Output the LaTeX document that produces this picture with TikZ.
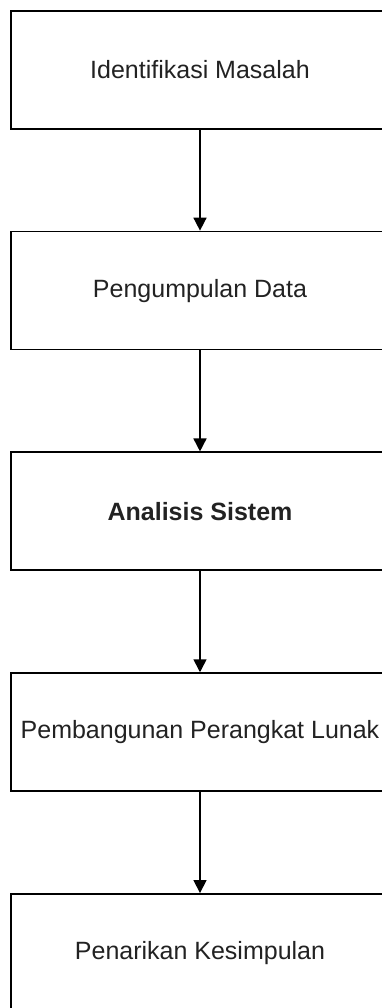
\documentclass[tikz,border=0pt]{standalone}
\usepackage{fontspec}
\setmainfont{Liberation Sans}
\usetikzlibrary{positioning, arrows.meta}
\definecolor{boxtext}{RGB}{34, 34, 34}

\begin{document}
\begin{tikzpicture}[
  procbox/.style={draw, line width=1.8pt, minimum width=378pt, minimum height=118pt, inner sep=0pt, font=\fontsize{25}{30}\selectfont, text=boxtext},
  flow/.style={-{Triangle[width=13pt, length=13pt]}, line width=1.6pt},
  node distance=101pt
]
  \useasboundingbox (0,0) rectangle (381pt,-1008pt);
  \node[procbox] (identifikasi) at (200pt,-69.75pt) {Identifikasi Masalah};
  \node[procbox, below=of identifikasi] (pengumpulan) {Pengumpulan Data};
  \node[procbox, below=of pengumpulan] (analisis) {\textbf{Analisis Sistem}};
  \node[procbox, below=of analisis] (pembangunan) {Pembangunan Perangkat Lunak};
  \node[procbox, below=of pembangunan] (penarikan) {Penarikan Kesimpulan};

  \draw[flow] (identifikasi) -- (pengumpulan);
  \draw[flow] (pengumpulan) -- (analisis);
  \draw[flow] (analisis) -- (pembangunan);
  \draw[flow] (pembangunan) -- (penarikan);
\end{tikzpicture}
\end{document}
